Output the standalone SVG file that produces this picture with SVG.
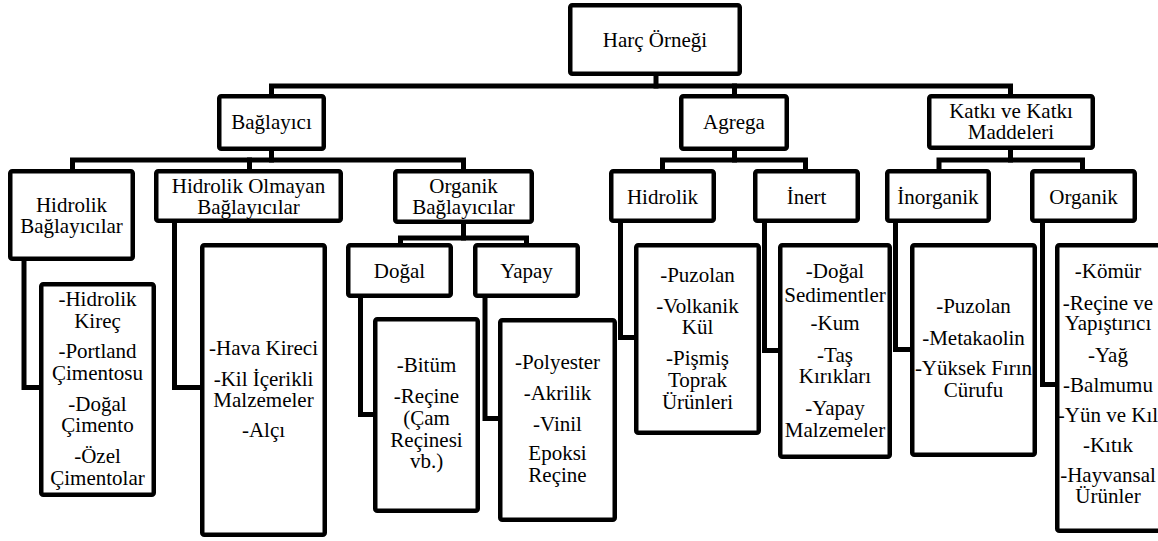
<svg xmlns="http://www.w3.org/2000/svg" width="1158" height="541" viewBox="0 0 1158 541">
<style>
.c{fill:none;stroke:#000;stroke-width:5;stroke-linecap:square}
.b{fill:#fff;stroke:#000;stroke-width:4.5}
.t{font-family:"Liberation Serif","Times New Roman",serif;font-size:21px;fill:#000;text-anchor:middle}
</style>
<rect x="0" y="0" width="1158" height="541" fill="#fff"/>
<g id="connectors">
<path class="c" d="M656,76 V86"/>
<path class="c" d="M271.5,94 V86 H1010.5 V94"/>
<path class="c" d="M734.5,86 V94"/>
<path class="c" d="M271.5,151 V160"/>
<path class="c" d="M72.5,169 V160 H463.5 V169"/>
<path class="c" d="M249.5,160 V169"/>
<path class="c" d="M463.5,224 V238"/>
<path class="c" d="M400.5,243 V238 H526.5 V243"/>
<path class="c" d="M734.5,151 V160"/>
<path class="c" d="M662.5,169 V160 H805.5 V169"/>
<path class="c" d="M1010.5,150 V160"/>
<path class="c" d="M939,169 V160 H1082.5 V169"/>
<path class="c" d="M24,261 V387.5 H41"/>
<path class="c" d="M174.5,223 V387.5 H202"/>
<path class="c" d="M360.5,298 V414.5 H374"/>
<path class="c" d="M485,298 V418.5 H499"/>
<path class="c" d="M620.5,223 V337.5 H635"/>
<path class="c" d="M764.5,223 V350.5 H779"/>
<path class="c" d="M895.5,223 V349.5 H911"/>
<path class="c" d="M1042.5,223 V384.5 H1056"/>
</g>
<g id="harc"><rect class="b" x="570.25" y="5.25" width="169.5" height="68.5" rx="2"/><text class="t" x="655" y="47">Harç Örneği</text></g>
<g id="baglayici"><rect class="b" x="219.25" y="96.25" width="104.5" height="52.5" rx="2"/><text class="t" x="271.5" y="129">Bağlayıcı</text></g>
<g id="agrega"><rect class="b" x="681.25" y="96.25" width="105.5" height="52.5" rx="2"/><text class="t" x="734" y="129">Agrega</text></g>
<g id="katki"><rect class="b" x="929.25" y="96.25" width="163.5" height="51.5" rx="2"/><text class="t"><tspan x="1011" y="118">Katkı ve Katkı</tspan><tspan x="1011" y="139">Maddeleri</tspan></text></g>
<g id="hidrolik-bag"><rect class="b" x="10.25" y="171.25" width="122.5" height="87.5" rx="2"/><text class="t"><tspan x="71.5" y="212">Hidrolik</tspan><tspan x="71.5" y="233">Bağlayıcılar</tspan></text></g>
<g id="hidrolik-olmayan"><rect class="b" x="156.25" y="171.25" width="184.5" height="49.5" rx="2"/><text class="t"><tspan x="248.5" y="193">Hidrolik Olmayan</tspan><tspan x="248.5" y="214">Bağlayıcılar</tspan></text></g>
<g id="organik-bag"><rect class="b" x="395.25" y="171.25" width="136.5" height="50.5" rx="2"/><text class="t"><tspan x="463.5" y="193">Organik</tspan><tspan x="463.5" y="214">Bağlayıcılar</tspan></text></g>
<g id="dogal"><rect class="b" x="348.25" y="245.25" width="102.5" height="50.5" rx="2"/><text class="t" x="399.5" y="278">Doğal</text></g>
<g id="yapay"><rect class="b" x="475.25" y="245.25" width="102.5" height="50.5" rx="2"/><text class="t" x="526.5" y="278">Yapay</text></g>
<g id="hidrolik-agr"><rect class="b" x="611.25" y="171.25" width="102.5" height="49.5" rx="2"/><text class="t" x="662.5" y="204">Hidrolik</text></g>
<g id="inert"><rect class="b" x="755.25" y="171.25" width="102.5" height="49.5" rx="2"/><text class="t" x="806.5" y="204">İnert</text></g>
<g id="inorganik"><rect class="b" x="887.25" y="171.25" width="101.5" height="49.5" rx="2"/><text class="t" x="938" y="204">İnorganik</text></g>
<g id="organik-katki"><rect class="b" x="1032.25" y="171.25" width="102.5" height="49.5" rx="2"/><text class="t" x="1083.5" y="204">Organik</text></g>
<g id="leaf-hidrolik"><rect class="b" x="41.25" y="284.25" width="112.5" height="210.5" rx="2"/>
<text class="t"><tspan x="97.5" y="306">-Hidrolik</tspan><tspan x="97.5" y="328">Kireç</tspan><tspan x="97.5" y="358">-Portland</tspan><tspan x="97.5" y="380">Çimentosu</tspan><tspan x="97.5" y="411">-Doğal</tspan><tspan x="97.5" y="432">Çimento</tspan><tspan x="97.5" y="463">-Özel</tspan><tspan x="97.5" y="485">Çimentolar</tspan></text></g>
<g id="leaf-hidrolik-olmayan"><rect class="b" x="202.25" y="245.25" width="122.5" height="289.5" rx="2"/>
<text class="t"><tspan x="263.5" y="355">-Hava Kireci</tspan><tspan x="263.5" y="386">-Kil İçerikli</tspan><tspan x="263.5" y="407">Malzemeler</tspan><tspan x="263.5" y="437">-Alçı</tspan></text></g>
<g id="leaf-dogal"><rect class="b" x="375.25" y="319.25" width="102.5" height="191.5" rx="2"/>
<text class="t"><tspan x="426.5" y="372">-Bitüm</tspan><tspan x="426.5" y="403">-Reçine</tspan><tspan x="426.5" y="425">(Çam</tspan><tspan x="426.5" y="447">Reçinesi</tspan><tspan x="426.5" y="468">vb.)</tspan></text></g>
<g id="leaf-yapay"><rect class="b" x="500.25" y="320.25" width="114.5" height="199.5" rx="2"/>
<text class="t"><tspan x="557.5" y="369">-Polyester</tspan><tspan x="557.5" y="400">-Akrilik</tspan><tspan x="557.5" y="431">-Vinil</tspan><tspan x="557.5" y="460">Epoksi</tspan><tspan x="557.5" y="482">Reçine</tspan></text></g>
<g id="leaf-hidrolik-agr"><rect class="b" x="636.25" y="245.25" width="122.5" height="187.5" rx="2"/>
<text class="t"><tspan x="697.5" y="282">-Puzolan</tspan><tspan x="697.5" y="313">-Volkanik</tspan><tspan x="697.5" y="334">Kül</tspan><tspan x="697.5" y="365">-Pişmiş</tspan><tspan x="697.5" y="387">Toprak</tspan><tspan x="697.5" y="409">Ürünleri</tspan></text></g>
<g id="leaf-inert"><rect class="b" x="780.25" y="245.25" width="109.5" height="211.5" rx="2"/>
<text class="t"><tspan x="835" y="278">-Doğal</tspan><tspan x="835" y="302">Sedimentler</tspan><tspan x="835" y="330">-Kum</tspan><tspan x="835" y="362">-Taş</tspan><tspan x="835" y="383">Kırıkları</tspan><tspan x="835" y="415">-Yapay</tspan><tspan x="835" y="437">Malzemeler</tspan></text></g>
<g id="leaf-inorganik"><rect class="b" x="912.25" y="245.25" width="122.5" height="209.5" rx="2"/>
<text class="t"><tspan x="973.5" y="313">-Puzolan</tspan><tspan x="973.5" y="345">-Metakaolin</tspan><tspan x="973.5" y="375">-Yüksek Fırın</tspan><tspan x="973.5" y="397">Cürufu</tspan></text></g>
<g id="leaf-organik"><rect class="b" x="1057.25" y="245.25" width="103.5" height="285.5" rx="2"/>
<text class="t"><tspan x="1108" y="278">-Kömür</tspan><tspan x="1108" y="310">-Reçine ve</tspan><tspan x="1108" y="330">Yapıştırıcı</tspan><tspan x="1108" y="362">-Yağ</tspan><tspan x="1108" y="392">-Balmumu</tspan><tspan x="1108" y="422">-Yün ve Kıl</tspan><tspan x="1108" y="452">-Kıtık</tspan><tspan x="1108" y="482">-Hayvansal</tspan><tspan x="1108" y="503">Ürünler</tspan></text></g>
</svg>
